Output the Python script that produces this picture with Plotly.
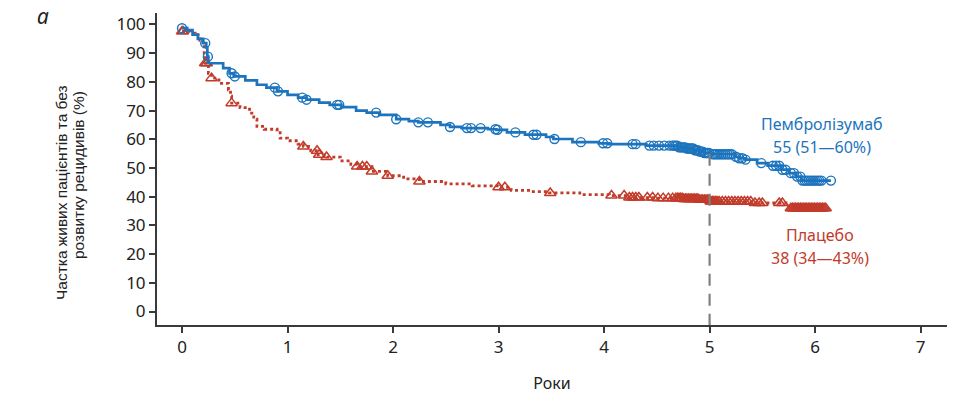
import numpy as np
import plotly.graph_objects as go

# ---------------- data ----------------
years_ticks = [0, 1, 2, 3, 4, 5, 6, 7]
pct_ticks = [0, 10, 20, 30, 40, 50, 60, 70, 80, 90, 100]

# Pembrolizumab KM step curve (time in years, % alive & relapse-free)
pem_t = [0.0, 0.05, 0.10, 0.15, 0.20, 0.23, 0.24, 0.25, 0.39, 0.45, 0.49, 0.60, 0.71, 0.80, 0.90,
         1.00, 1.10, 1.18, 1.30, 1.40, 1.51, 1.65, 1.75, 1.87, 2.03, 2.15, 2.24, 2.45, 2.54, 2.65,
         2.90, 2.98, 3.08, 3.25, 3.45, 3.52, 3.70, 3.95, 4.05, 4.40, 4.70, 4.78, 4.85, 4.90, 4.95,
         5.00, 5.24, 5.28, 5.34, 5.45, 5.55, 5.68, 5.75, 5.82, 5.87, 6.15]
pem_s = [98.7, 98.0, 96.5, 95.0, 93.5, 92.0, 88.8, 86.5, 84.8, 83.0, 81.9, 80.5, 79.0, 78.0, 76.7,
         75.5, 74.5, 73.8, 72.8, 72.0, 71.2, 70.0, 69.3, 68.5, 67.0, 66.3, 65.9, 65.0, 64.3, 63.9,
         63.5, 63.3, 62.4, 61.6, 60.8, 60.1, 59.0, 58.6, 58.3, 57.8, 57.2, 56.8, 56.2, 55.7, 55.2,
         54.8, 53.9, 53.4, 52.9, 51.7, 50.8, 49.4, 48.2, 47.0, 45.6, 45.6]
pem_cens = [0.0, 0.22, 0.245, 0.47, 0.50, 0.88, 0.91, 1.14, 1.18, 1.47, 1.49, 1.84, 2.03, 2.24,
            2.33, 2.54, 2.70, 2.74, 2.83, 2.97, 2.99, 3.16, 3.33, 3.36, 3.53, 3.78, 3.99, 4.03,
            4.27, 4.30, 4.43, 4.47, 4.52, 4.57, 4.62, 4.65, 4.665, 4.68, 4.695, 4.71, 4.725,
            4.74, 4.755, 4.77, 4.785, 4.80, 4.815, 4.83, 4.845, 4.86, 4.875, 4.89, 4.905, 4.92,
            4.935, 4.95, 4.965, 4.98, 4.995, 5.03, 5.05, 5.07, 5.09, 5.11, 5.13, 5.15, 5.17,
            5.19, 5.21, 5.25, 5.28, 5.31, 5.34, 5.49, 5.60, 5.63, 5.66, 5.69, 5.72, 5.77, 5.80,
            5.83, 5.86, 5.88, 5.90, 5.92, 5.94, 5.96, 5.98, 6.00, 6.02, 6.04, 6.06, 6.15]

# Placebo KM step curve
pla_t = [0.0, 0.08, 0.125, 0.17, 0.20, 0.21, 0.22, 0.25, 0.28, 0.35, 0.44, 0.46, 0.47, 0.55, 0.64,
         0.68, 0.71, 0.78, 0.90, 0.93, 1.00, 1.10, 1.15, 1.22, 1.29, 1.37, 1.50, 1.60, 1.66, 1.80,
         1.95, 2.10, 2.25, 2.50, 2.75, 3.00, 3.12, 3.30, 3.48, 3.77, 4.05, 4.21, 4.50, 4.75, 4.90,
         5.00, 5.40, 5.75, 6.10]
pla_s = [97.6, 97.0, 96.4, 94.5, 92.9, 90.0, 86.5, 83.0, 81.3, 79.5, 77.2, 75.0, 72.6, 71.0, 69.1,
         67.0, 64.5, 63.5, 63.3, 60.4, 59.5, 58.3, 57.5, 56.0, 54.6, 53.8, 52.5, 51.3, 50.5, 48.8,
         47.3, 46.2, 45.3, 44.5, 43.8, 43.3, 42.2, 41.8, 41.3, 40.7, 40.4, 39.7, 39.5, 39.2, 38.9,
         38.3, 37.8, 36.0, 36.0]
pla_cens = [0.0, 0.01, 0.22, 0.235, 0.28, 0.47, 1.15, 1.28, 1.30, 1.37, 1.66, 1.71, 1.75, 1.80,
            1.95, 2.25, 3.00, 3.06, 3.49, 4.07, 4.19, 4.24, 4.27, 4.30, 4.33, 4.41, 4.46, 4.51,
            4.56, 4.61, 4.65, 4.68, 4.695, 4.71, 4.725, 4.74, 4.755, 4.77, 4.785, 4.80, 4.815,
            4.83, 4.845, 4.86, 4.875, 4.89, 4.905, 4.92, 4.935, 4.95, 4.965, 4.98, 4.995, 5.01,
            5.025, 5.04, 5.055, 5.07, 5.09, 5.12, 5.15, 5.18, 5.21, 5.24, 5.27, 5.30, 5.33, 5.36,
            5.39, 5.43, 5.47, 5.50, 5.66, 5.69, 5.77, 5.785, 5.80, 5.815, 5.83, 5.845, 5.86,
            5.875, 5.89, 5.905, 5.92, 5.935, 5.95, 5.965, 5.98, 5.995, 6.01, 6.025, 6.04, 6.055,
            6.07, 6.085, 6.10]

pem_label = ["Пембролізумаб", "55 (51—60%)"]
pla_label = ["Плацебо", "38 (34—43%)"]
landmark_year = 5
landmark_top = 55

BLUE = "#1c74bd"
RED = "#c23b2a"
AXIS = "#3a3a3a"


def km_at(times, surv, q):
    idx = np.searchsorted(np.asarray(times), np.asarray(q), side="right") - 1
    idx = np.clip(idx, 0, len(surv) - 1)
    return np.asarray(surv)[idx]


fig = go.Figure()

fig.add_trace(go.Scatter(x=pla_t, y=pla_s, mode="lines", line_shape="hv",
                         line=dict(color=RED, width=2.8, dash="3px,3px"),
                         hoverinfo="skip", showlegend=False))
fig.add_trace(go.Scatter(x=pla_cens, y=km_at(pla_t, pla_s, pla_cens), mode="markers",
                         marker=dict(symbol="triangle-up-open", size=10,
                                     color=RED, line=dict(width=1.5, color=RED)),
                         showlegend=False))
fig.add_trace(go.Scatter(x=pem_t, y=pem_s, mode="lines", line_shape="hv",
                         line=dict(color=BLUE, width=2.7),
                         hoverinfo="skip", showlegend=False))
fig.add_trace(go.Scatter(x=pem_cens, y=km_at(pem_t, pem_s, pem_cens), mode="markers",
                         marker=dict(symbol="circle-open", size=9,
                                     color=BLUE, line=dict(width=1.4, color=BLUE)),
                         showlegend=False))

# landmark dashed line at 5 years
fig.add_shape(type="line", x0=landmark_year, x1=landmark_year, y0=landmark_top, y1=-4.7,
              xref="x", yref="y", layer="above",
              line=dict(color="#808080", width=2.2, dash="12px,8px"))

# group labels
fig.add_annotation(x=6.07, y=65.4, text=pem_label[0], showarrow=False,
                   font=dict(color=BLUE, size=16, family="Noto Sans"))
fig.add_annotation(x=6.07, y=57.2, text=pem_label[1], showarrow=False,
                   font=dict(color=BLUE, size=16, family="Noto Sans"))
fig.add_annotation(x=6.05, y=26.7, text=pla_label[0], showarrow=False,
                   font=dict(color=RED, size=16, family="Noto Sans"))
fig.add_annotation(x=6.05, y=18.8, text=pla_label[1], showarrow=False,
                   font=dict(color=RED, size=16, family="Noto Sans"))

# y-axis title (two lines)
fig.add_annotation(x=(62 - 157) / 790, y=(325 - 193) / 312, xref="paper", yref="paper",
                   xanchor="center", yanchor="middle",
                   text="Частка живих пацієнтів та без", textangle=-90, showarrow=False,
                   font=dict(color="#222", size=15.5, family="Liberation Sans"))
fig.add_annotation(x=(79 - 157) / 790, y=(325 - 175) / 312, xref="paper", yref="paper",
                   xanchor="center", yanchor="middle",
                   text="розвитку рецидивів (%)", textangle=-90, showarrow=False,
                   font=dict(color="#222", size=15.5, family="Liberation Sans"))

# panel letter
fig.add_annotation(x=(43 - 157) / 790, y=(325 - 16) / 312, xref="paper", yref="paper",
                   xanchor="center", yanchor="middle",
                   text="<i>а</i>", showarrow=False,
                   font=dict(color="#222", size=21, family="Noto Sans"))

fig.update_layout(
    width=976, height=394,
    margin=dict(l=157, r=29, t=13, b=69, autoexpand=False),
    plot_bgcolor="white", paper_bgcolor="white",
    font=dict(family="Noto Sans", size=16, color="#222"),
    xaxis=dict(range=[-0.237, 7.25], tickvals=years_ticks, ticks="outside", ticklen=6,
               tickwidth=2, tickcolor=AXIS, showline=True, linecolor=AXIS, linewidth=2,
               showgrid=False, zeroline=False, automargin=False,
               tickfont=dict(size=17, color="#222"),
               title=dict(text="Роки", standoff=22, font=dict(size=16, color="#222"))),
    yaxis=dict(range=[-4.7, 104], tickvals=pct_ticks, ticks="outside", ticklen=6,
               tickwidth=2, tickcolor=AXIS, showline=True, linecolor=AXIS, linewidth=2,
               showgrid=False, zeroline=False, automargin=False,
               tickfont=dict(size=17, color="#222")),
)

fig.write_html("out.html", config={"displayModeBar": False},
               post_script="document.body.style.margin='0';document.body.style.overflow='hidden';")
